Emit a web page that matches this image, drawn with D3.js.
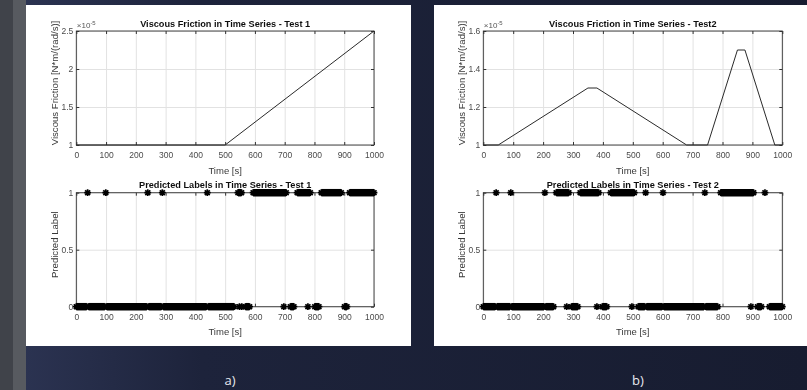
<!DOCTYPE html>
<html>
<head>
<meta charset="utf-8">
<script src="https://cdn.jsdelivr.net/npm/d3@7"></script>
<style>
  body { margin: 0; background: #171c31; }
  svg { display: block; }
  text { font-family: "Liberation Sans", Arial, sans-serif; }
</style>
</head>
<body>
<svg id="chart" width="807" height="390"></svg>
<script>
// values
const timeTicks = [0, 100, 200, 300, 400, 500, 600, 700, 800, 900, 1000];
const labelTicks = [0, 0.5, 1];

// viscous friction, in units of 1e-5 N*m/(rad/s)
const test1Time = [0, 500, 1000];
const test1Friction = [1.0, 1.0, 2.5];
const test1FrictionTicks = [1, 1.5, 2, 2.5];

const test2Time = [0, 50, 350, 380, 680, 750, 850, 875, 975, 1000];
const test2Friction = [1.0, 1.0, 1.3, 1.3, 1.0, 1.0, 1.5, 1.5, 1.0, 1.0];
const test2FrictionTicks = [1, 1.2, 1.4, 1.6];

// predicted labels: runs of [from, to] in seconds
const test1Label1 = [[38, 38], [99, 99], [240, 240], [289, 289], [440, 440], [543, 555],
  [594, 705], [742, 786], [823, 890], [918, 1000]];
const test1Label0 = [[0, 35], [41, 96], [102, 237], [243, 286], [292, 437], [443, 530],
  [548, 548], [556, 556], [568, 582], [697, 697], [719, 731], [778, 778], [801, 815], [901, 909]];

const test2Label1 = [[43, 43], [92, 92], [206, 206], [244, 286], [324, 386], [426, 505],
  [543, 543], [601, 601], [741, 741], [794, 904], [942, 942]];
const test2Label0 = [[0, 40], [46, 89], [95, 203], [209, 235], [279, 279], [295, 316],
  [380, 380], [398, 413], [497, 497], [518, 540], [546, 598], [604, 738], [744, 784],
  [895, 895], [917, 930], [957, 1000]];

const svg = d3.select("#chart");
const W = 807, H = 390;

// background
const defs = svg.append("defs");
const bg = defs.append("linearGradient").attr("id", "bg").attr("x1", 0).attr("x2", 1).attr("y1", 0).attr("y2", 0);
bg.append("stop").attr("offset", "0%").attr("stop-color", "#2d3554");
bg.append("stop").attr("offset", "25%").attr("stop-color", "#1d233b");
bg.append("stop").attr("offset", "100%").attr("stop-color", "#171c30");
defs.append("filter").attr("id", "soft")
  .append("feGaussianBlur").attr("stdDeviation", 0.3);

svg.append("rect").attr("width", W).attr("height", H).attr("fill", "url(#bg)");
svg.append("rect").attr("width", 13).attr("height", H).attr("fill", "#40434a");
svg.append("rect").attr("x", 13).attr("width", 13).attr("height", H).attr("fill", "#575a60");

const asterisk = r => {
  const k = r * 0.72;
  return `M${-r},0H${r}M0,${-r}V${r}M${-k},${-k}L${k},${k}M${-k},${k}L${k},${-k}`;
};

function drawAxes(g, cfg) {
  const x = d3.scaleLinear().domain([0, 1000]).range([cfg.left, cfg.right]);
  const y = d3.scaleLinear().domain(cfg.yDomain).range([cfg.bottom, cfg.top]);
  const h = cfg.bottom - cfg.top, w = cfg.right - cfg.left;

  // grid
  g.append("g").attr("transform", `translate(0,${cfg.bottom})`)
    .call(d3.axisBottom(x).tickValues(timeTicks).tickSize(-h).tickFormat(""))
    .call(s => s.select(".domain").remove())
    .call(s => s.selectAll("line").attr("stroke", "#e2e2e2"));
  g.append("g").attr("transform", `translate(${cfg.left},0)`)
    .call(d3.axisLeft(y).tickValues(cfg.yTicks).tickSize(-w).tickFormat(""))
    .call(s => s.select(".domain").remove())
    .call(s => s.selectAll("line").attr("stroke", "#e2e2e2"));

  // box
  g.append("rect").attr("x", cfg.left).attr("y", cfg.top).attr("width", w).attr("height", h)
    .attr("fill", "none").attr("stroke", "#333").attr("stroke-width", 0.9);

  const style = s => {
    s.select(".domain").remove();
    s.selectAll("line").attr("stroke", "#333");
    s.selectAll("text").attr("fill", "#4a4a4a").style("font-size", "8.5px")
      .style("font-family", "'Liberation Sans', Arial, sans-serif");
  };
  g.append("g").attr("transform", `translate(0,${cfg.bottom})`)
    .call(d3.axisBottom(x).tickValues(timeTicks).tickSizeInner(-3).tickSizeOuter(0).tickPadding(7)
      .tickFormat(d => String(d)))
    .call(style);
  g.append("g").attr("transform", `translate(0,${cfg.top})`)
    .call(d3.axisTop(x).tickValues(timeTicks).tickSizeInner(-3).tickSizeOuter(0).tickFormat(""))
    .call(style);
  g.append("g").attr("transform", `translate(${cfg.left},0)`)
    .call(d3.axisLeft(y).tickValues(cfg.yTicks).tickSizeInner(-3).tickSizeOuter(0).tickPadding(3)
      .tickFormat(d => String(d)))
    .call(style);
  g.append("g").attr("transform", `translate(${cfg.right},0)`)
    .call(d3.axisRight(y).tickValues(cfg.yTicks).tickSizeInner(-3).tickSizeOuter(0).tickFormat(""))
    .call(style);

  g.append("text").attr("x", (cfg.left + cfg.right) / 2).attr("y", cfg.top - 4.5)
    .attr("text-anchor", "middle").attr("font-size", 9.2).attr("font-weight", "bold")
    .attr("fill", "#111").text(cfg.title);
  g.append("text").attr("x", (cfg.left + cfg.right) / 2).attr("y", cfg.bottom + 28.5)
    .attr("text-anchor", "middle").attr("font-size", 9.5).attr("fill", "#383838").text("Time [s]");
  g.append("text")
    .attr("transform", `translate(${cfg.left - 18.5},${(cfg.top + cfg.bottom) / 2 - 5}) rotate(-90)`)
    .attr("text-anchor", "middle").attr("font-size", 9.6).attr("fill", "#383838").text(cfg.ylabel);

  if (cfg.exponent) {
    const t = g.append("text").attr("x", cfg.left + 0.5).attr("y", cfg.top - 3)
      .attr("font-size", 8).attr("fill", "#555");
    t.append("tspan").text("\u00d710");
    t.append("tspan").attr("dy", -3.5).attr("font-size", 6).text("-5");
  }
  return { x, y };
}

function drawPanel(p) {
  const g = svg.append("g").attr("filter", "url(#soft)");
  g.append("rect").attr("x", p.x).attr("y", p.y).attr("width", p.w).attr("height", p.h).attr("fill", "#fff");

  // friction over time
  const a = drawAxes(g, {
    left: p.axL, right: p.axR, top: 31, bottom: 145,
    yDomain: d3.extent(p.frictionTicks), yTicks: p.frictionTicks,
    title: p.frictionTitle, ylabel: "Viscous Friction [N*m/(rad/s)]", exponent: true
  });
  const pts = p.time.map((t, i) => [t, p.friction[i]]);
  g.append("path").datum(pts)
    .attr("d", d3.line().x(d => a.x(d[0])).y(d => a.y(d[1])))
    .attr("fill", "none").attr("stroke", "#2a2a2a").attr("stroke-width", 1);

  // predicted labels
  const b = drawAxes(g, {
    left: p.axL, right: p.axR, top: 192.7, bottom: 306.7,
    yDomain: [0, 1], yTicks: labelTicks,
    title: p.labelTitle, ylabel: "Predicted Label", exponent: false
  });
  const runs = p.label1.map(r => ({ r, v: 1 })).concat(p.label0.map(r => ({ r, v: 0 })));
  const rg = g.append("g").attr("stroke", "#000");
  rg.selectAll("line.band").data(runs.filter(d => d.r[1] > d.r[0])).join("line")
    .attr("class", "band")
    .attr("x1", d => b.x(d.r[0])).attr("x2", d => b.x(d.r[1]))
    .attr("y1", d => b.y(d.v)).attr("y2", d => b.y(d.v))
    .attr("stroke-width", 7.5);
  const ends = [];
  runs.forEach(d => {
    ends.push({ t: d.r[0], v: d.v });
    if (d.r[1] > d.r[0]) ends.push({ t: d.r[1], v: d.v });
  });
  rg.selectAll("path.mk").data(ends).join("path")
    .attr("class", "mk")
    .attr("transform", d => `translate(${b.x(d.t)},${b.y(d.v)})`)
    .attr("d", asterisk(3.4)).attr("fill", "none").attr("stroke-width", 1.7);

  svg.append("text").attr("x", p.capX).attr("y", 385).attr("text-anchor", "middle")
    .style("font-family", "'Open Sans', 'Noto Sans', sans-serif").attr("font-size", 13)
    .attr("fill", "#e8e9f0").text(p.caption);
}

drawPanel({
  x: 26, y: 5, w: 385, h: 341, axL: 76.3, axR: 374,
  time: test1Time, friction: test1Friction, frictionTicks: test1FrictionTicks,
  label1: test1Label1, label0: test1Label0,
  frictionTitle: "Viscous Friction in Time Series - Test 1",
  labelTitle: "Predicted Labels in Time Series - Test 1",
  caption: "a)", capX: 230
});
drawPanel({
  x: 434, y: 5, w: 373, h: 341, axL: 483.3, axR: 782.3,
  time: test2Time, friction: test2Friction, frictionTicks: test2FrictionTicks,
  label1: test2Label1, label0: test2Label0,
  frictionTitle: "Viscous Friction in Time Series - Test2",
  labelTitle: "Predicted Labels in Time Series - Test 2",
  caption: "b)", capX: 638
});
</script>
</body>
</html>
